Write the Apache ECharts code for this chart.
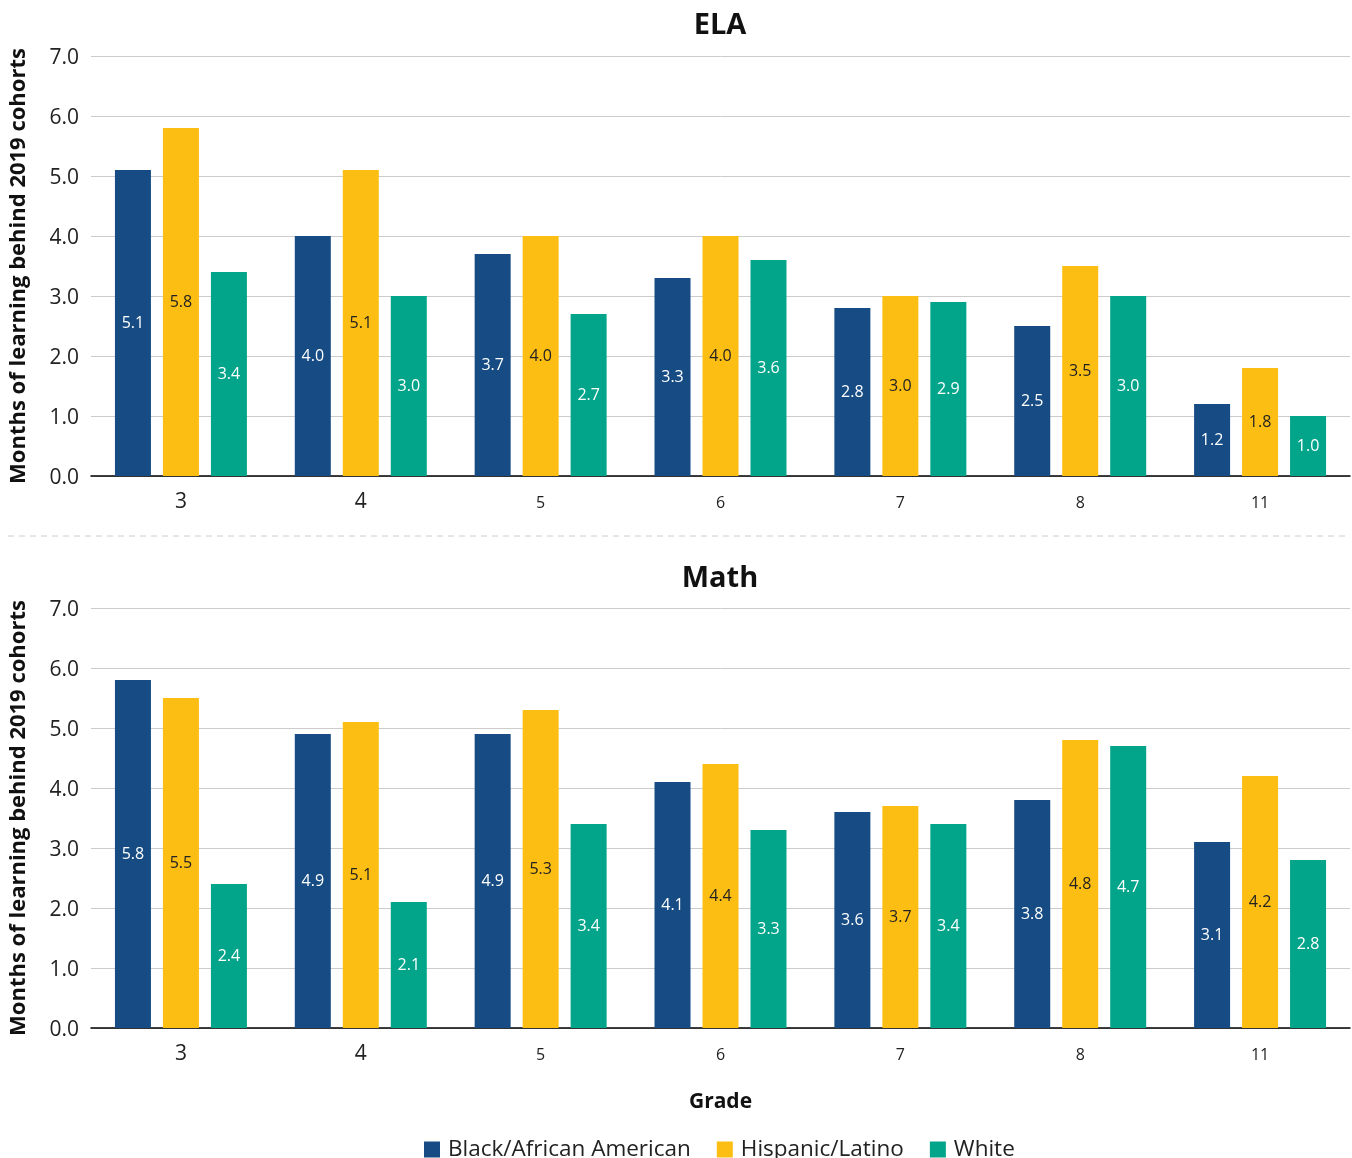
<!DOCTYPE html>
<html>
<head>
<meta charset="utf-8">
<script src="https://cdn.jsdelivr.net/npm/echarts@6/dist/echarts.min.js"></script>
<style>
  html, body { margin: 0; padding: 0; background: #fff; }
  #chart { width: 1352px; height: 1158px; }
</style>
</head>
<body>
<div id="chart"></div>
<script>
// Grades and group names
const grades = ['3', '4', '5', '6', '7', '8', '11'];
const groups = ['Black/African American', 'Hispanic/Latino', 'White'];

// ELA: months of learning behind 2019 cohorts
const elaBlack    = [5.1, 4.0, 3.7, 3.3, 2.8, 2.5, 1.2];
const elaHispanic = [5.8, 5.1, 4.0, 4.0, 3.0, 3.5, 1.8];
const elaWhite    = [3.4, 3.0, 2.7, 3.6, 2.9, 3.0, 1.0];

// Math: months of learning behind 2019 cohorts
const mathBlack    = [5.8, 4.9, 4.9, 4.1, 3.6, 3.8, 3.1];
const mathHispanic = [5.5, 5.1, 5.3, 4.4, 3.7, 4.8, 4.2];
const mathWhite    = [2.4, 2.1, 3.4, 3.3, 3.4, 4.7, 2.8];

// Y axis ticks
const yTicks = [0, 1, 2, 3, 4, 5, 6, 7];

const colors = ['#164c83', '#fdbe13', '#02a48a'];
const labelColors = ['#ffffff', '#222222', '#ffffff'];
const FONT = '"Open Sans", "Noto Sans", sans-serif';

const chart = echarts.init(document.getElementById('chart'), null, { renderer: 'canvas' });

function yAxis(gridIndex) {
  return {
    type: 'value',
    gridIndex: gridIndex,
    min: yTicks[0],
    max: yTicks[yTicks.length - 1],
    interval: 1,
    name: 'Months of learning behind 2019 cohorts',
    nameLocation: 'middle',
    nameRotate: 90,
    nameGap: 61,
    nameTextStyle: { fontFamily: FONT, fontSize: 22, fontWeight: 'bold', color: '#111' },
    axisLine: { show: false },
    axisTick: { show: false },
    axisLabel: {
      margin: 12,
      formatter: v => '{t|' + v.toFixed(1) + '}',
      rich: {
        t: { fontFamily: FONT, fontSize: 21, color: '#222', padding: [5, 0, 0, 0] }
      }
    },
    splitLine: { lineStyle: { color: '#cccccc', width: 1 } }
  };
}

function xAxis(gridIndex, withName) {
  const ax = {
    type: 'category',
    gridIndex: gridIndex,
    data: grades,
    axisLine: { lineStyle: { color: '#000', width: 1.5 } },
    axisTick: { show: false },
    axisLabel: {
      margin: 15,
      formatter: (v, i) => (i < 2 ? '{big|' + v + '}' : '{small|' + v + '}'),
      rich: {
        big: { fontFamily: FONT, fontSize: 21, color: '#222', lineHeight: 22 },
        small: { fontFamily: FONT, fontSize: 16, color: '#222', lineHeight: 24 }
      }
    }
  };
  if (withName) {
    ax.name = 'Grade';
    ax.nameLocation = 'middle';
    ax.nameGap = 64;
    ax.nameTextStyle = { fontFamily: FONT, fontSize: 21, fontWeight: 'bold', color: '#111' };
  }
  return ax;
}

function barSeries(name, data, idx, axisIdx) {
  return {
    name: name,
    type: 'bar',
    xAxisIndex: axisIdx,
    yAxisIndex: axisIdx,
    data: data,
    barWidth: 36,
    barGap: '33.3%',
    itemStyle: { color: colors[idx] },
    label: {
      show: true,
      position: 'inside',
      fontFamily: FONT,
      fontSize: 16,
      color: labelColors[idx],
      formatter: p => p.value.toFixed(1)
    }
  };
}

chart.setOption({
  animation: false,
  backgroundColor: '#ffffff',
  color: colors,
  title: [
    { text: 'ELA', left: 720, textAlign: 'center', top: 11, padding: 0,
      textStyle: { fontFamily: FONT, fontSize: 29, fontWeight: 'bold', color: '#111' } },
    { text: 'Math', left: 720, textAlign: 'center', top: 564, padding: 0,
      textStyle: { fontFamily: FONT, fontSize: 29, fontWeight: 'bold', color: '#111' } }
  ],
  legend: {
    data: groups,
    top: 1133,
    left: 419,
    icon: 'rect',
    itemWidth: 16,
    itemHeight: 16,
    itemGap: 26,
    textStyle: { fontFamily: FONT, fontSize: 22.5, color: '#222', padding: [0, 0, 0, 3] }
  },
  grid: [
    { left: 90, right: 2, top: 56, height: 420 },
    { left: 90, right: 2, top: 608, height: 420 }
  ],
  xAxis: [xAxis(0, false), xAxis(1, true)],
  yAxis: [yAxis(0), yAxis(1)],
  graphic: [{
    type: 'line',
    shape: { x1: 8, y1: 536, x2: 1346, y2: 536 },
    style: { stroke: '#cccccc', lineWidth: 1, lineDash: [6, 5] }
  }],
  series: [
    barSeries(groups[0], elaBlack, 0, 0),
    barSeries(groups[1], elaHispanic, 1, 0),
    barSeries(groups[2], elaWhite, 2, 0),
    barSeries(groups[0], mathBlack, 0, 1),
    barSeries(groups[1], mathHispanic, 1, 1),
    barSeries(groups[2], mathWhite, 2, 1)
  ]
});
</script>
</body>
</html>
